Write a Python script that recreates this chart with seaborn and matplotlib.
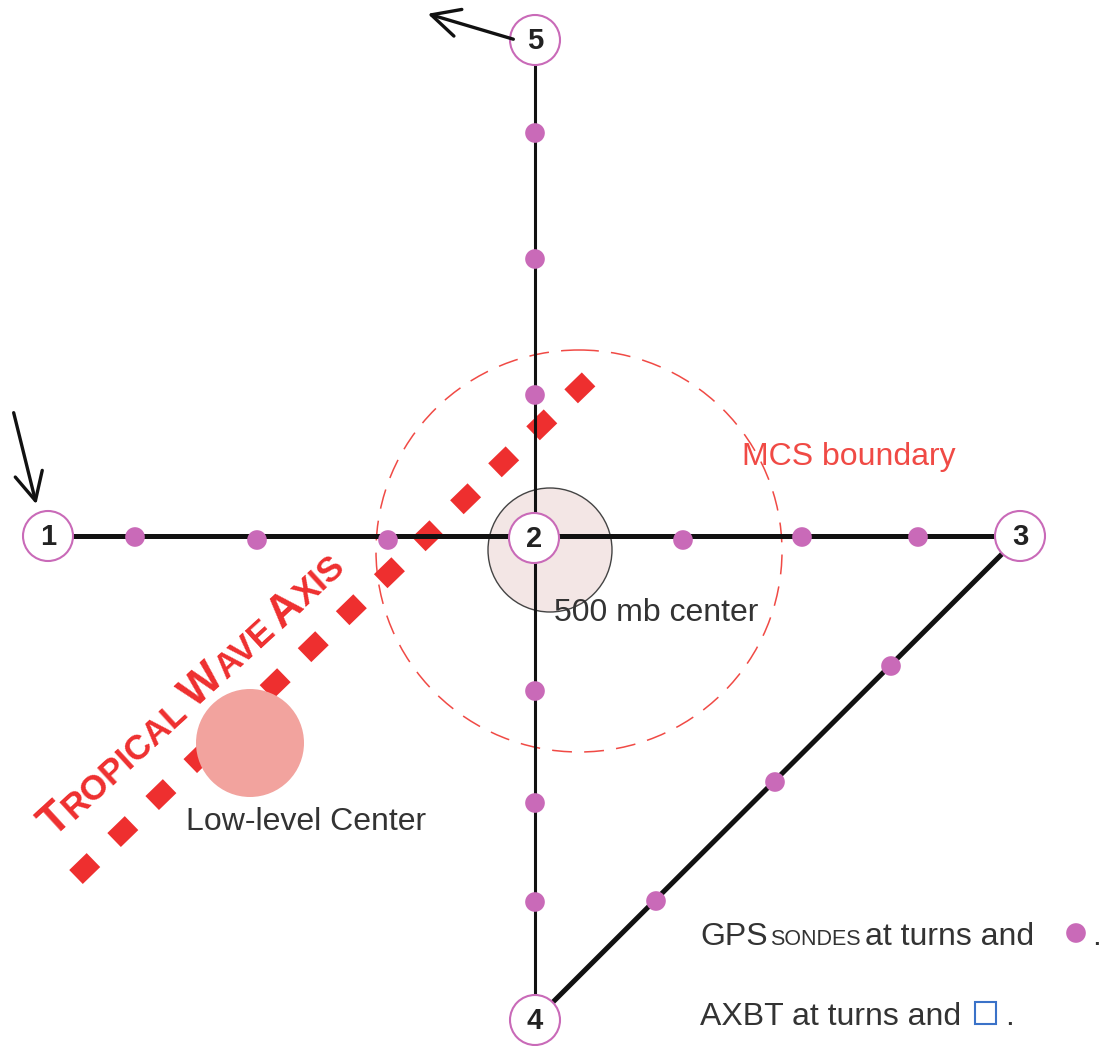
import numpy as np
import matplotlib
matplotlib.use("Agg")
import matplotlib.pyplot as plt
import matplotlib.transforms as mtransforms
from matplotlib.patches import Circle, Ellipse, Rectangle, FancyArrowPatch
import seaborn as sns
import pandas as pd

# turn points of the flight track (diagram coordinates, y down)
turn_labels = ["1", "2", "3", "4", "5"]
turn_x = [48, 534, 1020, 535, 535]
turn_y = [536, 538, 536, 1020, 40]

# GPS sonde drop points between the turns
sonde_x = [535, 535, 535, 535, 535, 535, 135, 257, 388, 683, 802, 918, 891, 775, 656]
sonde_y = [133, 259, 395, 691, 803, 902, 537, 540, 540, 540, 537, 537, 666, 782, 901]

# tropical wave axis end points
wave_x = [76, 589]
wave_y = [877, 379]

sns.set_theme(style="white")
plt.rcParams['font.family'] = ['Liberation Sans', 'DejaVu Sans']

fig = plt.figure(figsize=(11.04, 10.46), dpi=100)
ax = fig.add_axes([0, 0, 1, 1])
ax.set_xlim(0, 1104)
ax.set_ylim(1046, 0)
ax.axis('off')

PURPLE = '#c96ab8'
RED = '#ee2f2f'
GREY = '#333333'

# 500 mb center and MCS boundary
ax.add_patch(Circle((550, 550), 62, facecolor='#f3e6e5', edgecolor='#444444', lw=1.0, zorder=1))
ax.add_patch(Ellipse((579, 551), 406, 402, fill=False, edgecolor='#f04a45', lw=1.1,
                     linestyle=(0, (13, 8)), zorder=1))

# tropical wave axis (under the track)
ax.plot(wave_x, wave_y, color=RED, lw=14, linestyle=(0, (1.25, 1.48)),
        solid_capstyle='butt', dash_capstyle='butt', zorder=1.5)

# flight track
T = dict(zip(turn_labels, zip(turn_x, turn_y)))
track = pd.DataFrame({
    'x': [T['1'][0], T['3'][0], T['5'][0], T['4'][0], T['3'][0], T['4'][0]],
    'y': [T['1'][1], T['3'][1], T['5'][1], T['4'][1], T['3'][1], T['4'][1]],
    'leg': ['h', 'h', 'v', 'v', 'd', 'd'],
})
for leg, lw in [('h', 3.6), ('v', 2.2), ('d', 3.6)]:
    sub = track[track.leg == leg]
    sns.lineplot(data=sub, x='x', y='y', sort=False, color='#111111', lw=lw, ax=ax, zorder=2,
                 estimator=None)

# low-level center
ax.add_patch(Circle((250, 743), 54, facecolor='#f2a39e', edgecolor='none', zorder=4))

# sondes
sns.scatterplot(x=sonde_x, y=sonde_y, color=PURPLE, s=200, marker='o', edgecolor='none',
                ax=ax, zorder=5)

# turn circles
for lab, x, y in zip(turn_labels, turn_x, turn_y):
    ax.add_patch(Circle((x, y), 25, facecolor='white', edgecolor=PURPLE, lw=1.5, zorder=6))
    ax.text(x, y + 1, lab, ha='center', va='center', fontsize=21, fontweight='bold',
            color='#222222', zorder=7)

# arrows
for tail, head in [((516, 40), (425, 13)), ((13, 410), (37, 507))]:
    ax.add_patch(FancyArrowPatch(tail, head, arrowstyle='->,head_length=20,head_width=10',
                                 mutation_scale=1, lw=2.4, color='#111111', zorder=6))

# plain labels
ax.text(742, 457, "MCS boundary", color='#f04a45', fontsize=23, va='center')
ax.text(554, 613, "500 mb center", color=GREY, fontsize=23, va='center', zorder=8)
ax.text(186, 822, "Low-level Center", color=GREY, fontsize=23, va='center')

renderer = fig.canvas.get_renderer()
ident = mtransforms.IdentityTransform()


def chain(x0, y0, pieces, angle=0, **kw):
    px, py = ax.transData.transform((x0, y0))
    th = np.radians(angle)
    for s, size, gap in pieces:
        ax.text(px, py, s, transform=ident, fontsize=size, rotation=angle,
                rotation_mode='anchor', ha='left', va='baseline', **kw)
        tmp = ax.text(0, 0, s, transform=ident, fontsize=size, **kw)
        w = tmp.get_window_extent(renderer).width + gap * size
        tmp.remove()
        px += w * np.cos(th)
        py += w * np.sin(th)
    return ax.transData.inverted().transform((px, py))


chain(54, 838, [("T", 32, 0), ("ROPICAL", 25, 0.3), ("W", 32, 0), ("AVE", 25, 0.3),
                ("A", 32, 0), ("XIS", 25, 0)], angle=42.5, color=RED, fontweight='bold')

# legend text
chain(700, 945, [("GPS", 23, 0.1), ("SONDES", 15.5, 0.3), ("at turns and", 23, 0)],
      color=GREY)
ax.scatter([1076], [933], color=PURPLE, s=200, marker='o', edgecolor='none', zorder=5)
ax.text(1092, 945, ".", color=GREY, fontsize=23, va='baseline')
chain(700, 1025, [("AXBT at turns and", 23, 0)], color=GREY)
ax.add_patch(Rectangle((975, 1002), 21, 22, fill=False, edgecolor='#3a72c8', lw=1.5))
ax.text(1005, 1025, ".", color=GREY, fontsize=23, va='baseline')

fig.savefig("out.png", dpi=100)
